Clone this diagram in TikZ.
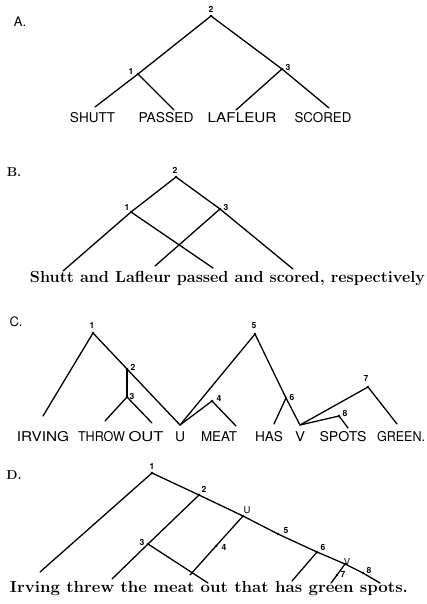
\documentclass[tikz,border=0pt]{standalone}
\usepackage{fontspec}
\newfontfamily\capsfont{TeX Gyre Heros}
\begin{document}
\begin{tikzpicture}[x=1pt,y=-1pt,
  tl/.style={line width=1.3pt, line cap=round, line join=round},
  vdot/.style={circle, fill=black, inner sep=0pt, minimum size=2.8pt},
  num/.style={font=\capsfont\bfseries\fontsize{8.5}{8.5}\selectfont, inner sep=0pt},
  capword/.style={font=\capsfont\fontsize{13.5}{13.5}\selectfont, inner sep=0pt},
  hand/.style={font=\bfseries\fontsize{16}{16}\selectfont, inner sep=0pt, anchor=base},
  plabel/.style={inner sep=0pt}]
\useasboundingbox (0,0) rectangle (426,604);
\newcommand\cw[2]{\resizebox{#1pt}{\height}{#2}}

% ---------------- Panel A ----------------
\node[plabel, font=\capsfont\fontsize{13}{13}\selectfont] (pA) at (20,22) {A.};
\node[vdot] (a2) at (211,16) {};
\node[vdot] (a1) at (138,74) {};
\node[vdot] (a3) at (282,69) {};
\node[num] (a2l) at (211,9) {2};
\node[num] (a1l) at (131,71) {1};
\node[num] (a3l) at (288,67) {3};
\coordinate (a1L) at (95,107);
\coordinate (a1R) at (174,110);
\coordinate (a3L) at (236,110);
\coordinate (a3R) at (329,108);
\draw[tl] (a2.center) -- (a1.center) -- (a1L);
\draw[tl] (a1.center) -- (a1R);
\draw[tl] (a2.center) -- (a3.center) -- (a3R);
\draw[tl] (a3.center) -- (a3L);
\node[capword] (wA1) at (92.5,118) {\cw{45}{SHUTT}};
\node[capword] (wA2) at (166,118) {\cw{55}{PASSED}};
\node[capword] (wA3) at (242,118) {\cw{69}{LAFLEUR}};
\node[capword] (wA4) at (323,118) {\cw{57}{SCORED}};

% ---------------- Panel B ----------------
\node[plabel, font=\fontsize{13}{13}\selectfont\bfseries] (pB) at (14,172) {B.};
\node[vdot] (b2) at (176,177) {};
\node[vdot] (b1) at (131,212) {};
\node[vdot] (b3) at (220,209) {};
\node[num] (b2l) at (175,170) {2};
\node[num] (b1l) at (127,207) {1};
\node[num] (b3l) at (226,207) {3};
\coordinate (b1L) at (63,271);
\coordinate (b1R) at (213,268);
\coordinate (b3L) at (155,266);
\coordinate (b3R) at (293,269);
\draw[tl] (b2.center) -- (b1.center) -- (b1L);
\draw[tl] (b1.center) -- (b1R);
\draw[tl] (b2.center) -- (b3.center) -- (b3R);
\draw[tl] (b3.center) -- (b3L);
\node[hand] (sB) at (227.5,282) {\cw{395}{Shutt and Lafleur passed and scored, respectively}};

% ---------------- Panel C ----------------
\node[plabel, font=\capsfont\fontsize{13}{13}\selectfont] (pC) at (16,322) {C.};
\node[vdot] (c1) at (93,333) {};
\node[vdot] (c2) at (127,369) {};
\node[vdot] (c3) at (127,397) {};
\node[vdot] (c5) at (255,334) {};
\node[vdot] (c4) at (212,401) {};
\node[vdot] (c6) at (286,398) {};
\node[vdot] (c7) at (368,387) {};
\node[vdot] (c8) at (339,416) {};
\coordinate (cU) at (180,425);
\coordinate (cV) at (300,425);
\node[num] (c1l) at (92,325) {1};
\node[num] (c2l) at (133,367) {2};
\node[num] (c3l) at (132,396) {3};
\node[num] (c5l) at (254,326) {5};
\node[num] (c4l) at (219,398) {4};
\node[num] (c6l) at (292,397) {6};
\node[num] (c7l) at (366,378) {7};
\node[num] (c8l) at (345,413) {8};
\coordinate (c1L) at (43,416);
\coordinate (c3L) at (105,421);
\coordinate (c3R) at (152,423);
\coordinate (c4R) at (236,426);
\coordinate (c6L) at (274,424);
\coordinate (c7R) at (397,424);
\coordinate (c8R) at (348,428);
\draw[tl] (c1.center) -- (c1L);
\draw[tl] (c1.center) -- (c2.center) -- (cU);
\draw[tl] (c2.center) -- (c3.center);
\draw[tl] (c3.center) -- (c3L);
\draw[tl] (c3.center) -- (c3R);
\draw[tl] (cU) -- (c5.center) -- (c6.center) -- (cV);
\draw[tl] (cU) -- (c4.center) -- (c4R);
\draw[tl] (c6.center) -- (c6L);
\draw[tl] (cV) -- (c7.center) -- (c7R);
\draw[tl] (cV) -- (c8.center) -- (c8R);
\node[capword] (wC1) at (43,437) {\cw{52}{IRVING}};
\node[capword] (wC2) at (101.5,437) {\cw{47}{THROW}};
\node[capword] (wC3) at (146,437) {\cw{35}{OUT}};
\node[capword] (wC4) at (180,437) {\cw{10}{U}};
\node[capword] (wC5) at (219,437) {\cw{36}{MEAT}};
\node[capword] (wC6) at (269,437) {\cw{28}{HAS}};
\node[capword] (wC7) at (300,437) {\cw{10}{V}};
\node[capword] (wC8) at (343,437) {\cw{47}{SPOTS}};
\node[capword] (wC9) at (401,437) {\cw{48}{GREEN.}};

% ---------------- Panel D ----------------
\node[plabel, font=\fontsize{13}{13}\selectfont\bfseries] (pD) at (14,475) {D.};
\node[vdot] (d1) at (152,473) {};
\node[vdot] (d2) at (199,495) {};
\node[vdot] (dU) at (243,516) {};
\node[vdot] (d5) at (278,534) {};
\node[vdot] (d6) at (317,552) {};
\node[vdot] (dV) at (345,564) {};
\node[vdot] (d8) at (363,573) {};
\node[vdot] (d3) at (148,544) {};
\node[vdot] (d4) at (216,546) {};
\node[vdot] (d7) at (337,575) {};
\node[num] (d1l) at (152,466) {1};
\node[num] (d2l) at (204,489) {2};
\node[num, font=\capsfont\fontsize{9.5}{9.5}\selectfont] (dUl) at (247,510) {U};
\node[num] (d5l) at (286,531) {5};
\node[num] (d6l) at (323,547) {6};
\node[num, font=\capsfont\fontsize{9.5}{9.5}\selectfont] (dVl) at (347,562) {V};
\node[num] (d8l) at (369,570) {8};
\node[num] (d3l) at (142,542) {3};
\node[num] (d4l) at (224,547) {4};
\node[num] (d7l) at (343,574) {7};
\coordinate (d1L) at (40,572);
\coordinate (dEnd) at (380,583);
\coordinate (d3L) at (112,579);
\coordinate (d3R) at (208,583);
\coordinate (d4L) at (190,575);
\coordinate (d6L) at (292,581);
\coordinate (d7L) at (331,583);
\draw[tl] (d1.center) -- (d1L);
\draw[tl] (d1.center) -- (d2.center) -- (dU.center) -- (d5.center) -- (d6.center) -- (dV.center) -- (d8.center) -- (dEnd);
\draw[tl] (d2.center) -- (d3.center) -- (d3L);
\draw[tl] (d3.center) -- (d3R);
\draw[tl] (dU.center) -- (d4.center) -- (d4L);
\draw[tl] (d6.center) -- (d6L);
\draw[tl] (dV.center) -- (d7.center) -- (d7L);
\node[hand] (sD) at (209,592) {\cw{398}{Irving threw the meat out that has green spots.}};
\end{tikzpicture}
\end{document}
